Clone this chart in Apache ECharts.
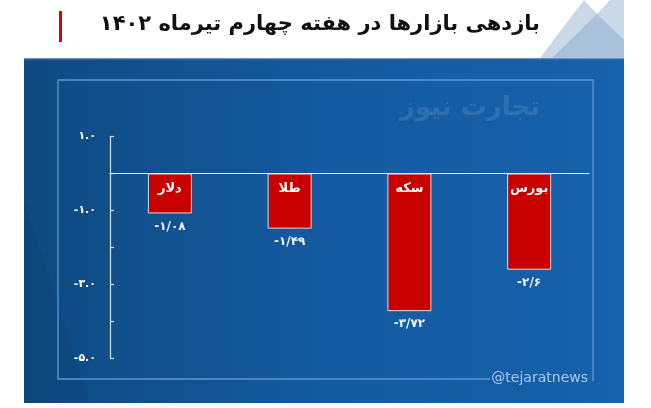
<!DOCTYPE html>
<html>
<head>
<meta charset="utf-8">
<script src="https://cdn.jsdelivr.net/npm/echarts@6/dist/echarts.min.js"></script>
<style>
html,body{margin:0;padding:0;background:#fff;}
#c{width:651px;height:408px;}
</style>
</head>
<body>
<div id="c"></div>
<script>
const categories = ['دلار', 'طلا', 'سکه', 'بورس'];
const values = [-1.08, -1.49, -3.72, -2.6];
const yTicks = [-5, -4, -3, -2, -1, 0, 1];
const titleText = 'بازدهی بازارها در هفته چهارم تیرماه ۱۴۰۲';
const watermarkText = 'تجارت نیوز';
const handleText = '@tejaratnews';

const FA = '۰۱۲۳۴۵۶۷۸۹';
function toFa(s) { return String(s).replace(/[0-9]/g, d => FA[+d]); }
function faValue(v) { return toFa(String(v)).replace('.', '/'); }

const FONT = "'DejaVu Sans', 'Noto Sans', sans-serif";
const chart = echarts.init(document.getElementById('c'), null, {renderer: 'canvas'});

const option = {
  animation: false,
  backgroundColor: '#ffffff',
  graphic: [
    // blue panel
    {type: 'rect', z: -10, shape: {x: 24, y: 59, width: 600, height: 344},
     style: {fill: new echarts.graphic.LinearGradient(0, 0, 1, 0, [
       {offset: 0, color: '#0f4a80'}, {offset: 0.5, color: '#145aa0'}, {offset: 1, color: '#1762ac'}])}},
    {type: 'polygon', z: -9, shape: {points: [[24, 200], [90, 403], [24, 403]]},
     style: {fill: 'rgba(5,30,70,0.08)'}},
    {type: 'line', z: -8, shape: {x1: 24, y1: 59, x2: 624, y2: 59}, style: {stroke: '#3a6aa8', lineWidth: 1.5}},
    // header decoration
    {type: 'polygon', z: -9, shape: {points: [[540, 58], [584, 0], [624, 0], [624, 58]]}, style: {fill: '#c9d9e8'}},
    {type: 'polygon', z: -8, shape: {points: [[552, 58], [597, 14], [624, 40], [624, 58]]}, style: {fill: '#a9c1da'}},
    {type: 'polygon', z: -8, shape: {points: [[584, 0], [610, 0], [597, 14]]}, style: {fill: '#ffffff'}},
    // inner frame
    {type: 'polyline', z: -7, shape: {points: [[490, 379], [58, 379], [58, 80], [593, 80], [593, 381]]},
     style: {stroke: '#5d97d4', lineWidth: 1.3, fill: null}},
    {type: 'text', z: -6, style: {text: handleText, x: 588, y: 378, align: 'right', verticalAlign: 'middle',
      font: '14px ' + FONT, fill: '#a9c9ee'}},
    // watermark
    {type: 'text', z: -6, style: {text: watermarkText, x: 540, y: 108, align: 'right', verticalAlign: 'middle',
      font: 'bold 26px ' + FONT, fill: 'rgba(255,255,255,0.11)'}},
    // title
    {type: 'rect', shape: {x: 59, y: 11, width: 3, height: 31}, style: {fill: '#e00000'}},
    {type: 'text', style: {text: titleText, x: 540, y: 25, align: 'right', verticalAlign: 'middle',
      font: 'bold 21px ' + FONT, fill: '#111111'}}
  ],
  grid: {left: 110, right: 62, top: 136.5, bottom: 49.5, containLabel: false},
  xAxis: {
    type: 'category', data: categories,
    axisLine: {show: true, onZero: true, lineStyle: {color: '#e6f0fa', width: 1.2}},
    axisTick: {show: false}, axisLabel: {show: false}, splitLine: {show: false}
  },
  yAxis: {
    type: 'value', min: yTicks[0], max: yTicks[yTicks.length - 1], interval: 1,
    axisLine: {show: true, lineStyle: {color: '#cfe2f5', width: 1.2}},
    axisTick: {show: true, inside: true, length: 4, lineStyle: {color: '#cfe2f5', width: 1.2}},
    splitLine: {show: false},
    axisLabel: {
      margin: 14, color: '#ffffff', fontFamily: FONT, fontWeight: 'bold', fontSize: 11,
      formatter: v => (Math.abs(v) % 2 === 1) ? toFa(v.toFixed(1)) : ''
    }
  },
  series: [
    {
      type: 'bar', data: values, barWidth: 44,
      itemStyle: {color: '#c80000', borderColor: '#dcdcdc', borderWidth: 1},
      label: {show: true, position: 'insideTop', distance: 9, color: '#ffffff',
        fontFamily: FONT, fontWeight: 'bold', fontSize: 13,
        formatter: p => categories[p.dataIndex]}
    },
    {
      type: 'bar', data: values, barWidth: 44, barGap: '-100%', z: 1,
      itemStyle: {color: 'rgba(0,0,0,0)'},
      label: {show: true, position: 'outside', distance: 7, color: '#eef5ff',
        fontFamily: FONT, fontWeight: 'bold', fontSize: 12,
        formatter: p => faValue(p.value)}
    }
  ]
};
chart.setOption(option);
</script>
</body>
</html>
